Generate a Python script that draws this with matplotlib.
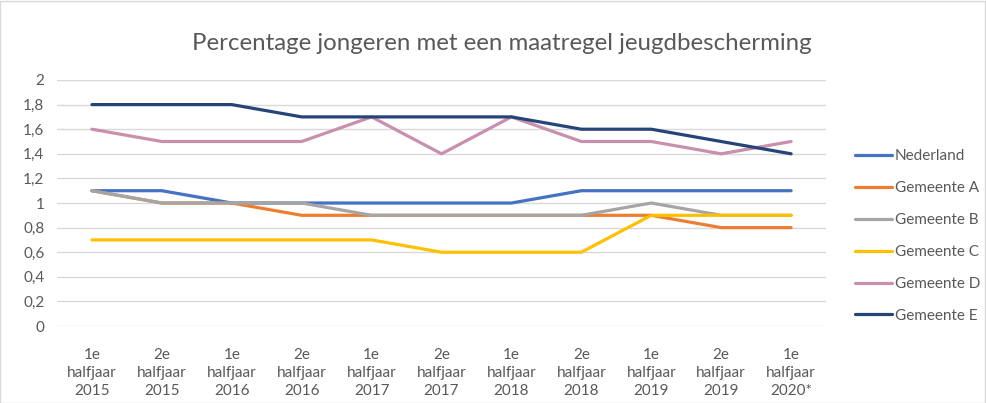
import matplotlib.pyplot as plt
from matplotlib.patches import Rectangle

# Data
periods = ["1e\nhalfjaar\n2015", "2e\nhalfjaar\n2015", "1e\nhalfjaar\n2016",
           "2e\nhalfjaar\n2016", "1e\nhalfjaar\n2017", "2e\nhalfjaar\n2017",
           "1e\nhalfjaar\n2018", "2e\nhalfjaar\n2018", "1e\nhalfjaar\n2019",
           "2e\nhalfjaar\n2019", "1e\nhalfjaar\n2020*"]
nederland = [1.1, 1.1, 1.0, 1.0, 1.0, 1.0, 1.0, 1.1, 1.1, 1.1, 1.1]
gemeente_a = [1.1, 1.0, 1.0, 0.9, 0.9, 0.9, 0.9, 0.9, 0.9, 0.8, 0.8]
gemeente_b = [1.1, 1.0, 1.0, 1.0, 0.9, 0.9, 0.9, 0.9, 1.0, 0.9, 0.9]
gemeente_c = [0.7, 0.7, 0.7, 0.7, 0.7, 0.6, 0.6, 0.6, 0.9, 0.9, 0.9]
gemeente_d = [1.6, 1.5, 1.5, 1.5, 1.7, 1.4, 1.7, 1.5, 1.5, 1.4, 1.5]
gemeente_e = [1.8, 1.8, 1.8, 1.7, 1.7, 1.7, 1.7, 1.6, 1.6, 1.5, 1.4]

series = [("Nederland", nederland, "#4472C4"),
          ("Gemeente A", gemeente_a, "#ED7D31"),
          ("Gemeente B", gemeente_b, "#A5A5A5"),
          ("Gemeente C", gemeente_c, "#FFC000"),
          ("Gemeente D", gemeente_d, "#C890AC"),
          ("Gemeente E", gemeente_e, "#264478")]

yticks = [0, 0.2, 0.4, 0.6, 0.8, 1.0, 1.2, 1.4, 1.6, 1.8, 2.0]
ytick_labels = ["0", "0,2", "0,4", "0,6", "0,8", "1", "1,2", "1,4", "1,6", "1,8", "2"]

plt.rcParams['font.family'] = ['Lato', 'DejaVu Sans']
txt = "#595959"

fig = plt.figure(figsize=(9.86, 4.03), dpi=100)
ax = fig.add_axes([0.0578, 0.191, 0.78, 0.6105])

x = list(range(len(periods)))
for name, vals, col in series:
    ax.plot(x, vals, color=col, lw=2.3, label=name, solid_capstyle='round')

ax.set_xlim(-0.5, len(periods) - 0.5)
ax.set_ylim(0, 2)
ax.set_yticks(yticks)
ax.set_yticklabels(ytick_labels, color=txt, fontsize=11)
ax.set_xticks(x)
ax.set_xticklabels(periods, color=txt, fontsize=11, linespacing=1.33)
ax.tick_params(axis='both', length=0)
ax.tick_params(axis='y', pad=9)
ax.tick_params(axis='x', pad=16)
ax.grid(axis='y', color="#d9d9d9", lw=1)
ax.set_axisbelow(True)
for s in ax.spines.values():
    s.set_visible(False)

fig.text(0.509, 0.891, "Percentage jongeren met een maatregel jeugdbescherming",
         ha='center', va='center', fontsize=17.3, color=txt)

ax.legend(loc='center left', bbox_to_anchor=(0.867, 0.414), bbox_transform=fig.transFigure,
          frameon=False, fontsize=11, labelcolor=txt, handlelength=2.4,
          handletextpad=0.2, labelspacing=1.17, borderpad=0, borderaxespad=0)

fig.add_artist(Rectangle((0.0005, 0.001), 0.998, 0.997, transform=fig.transFigure,
                         fill=False, edgecolor="#d9d9d9", lw=1))

fig.savefig("out.png", dpi=100)
